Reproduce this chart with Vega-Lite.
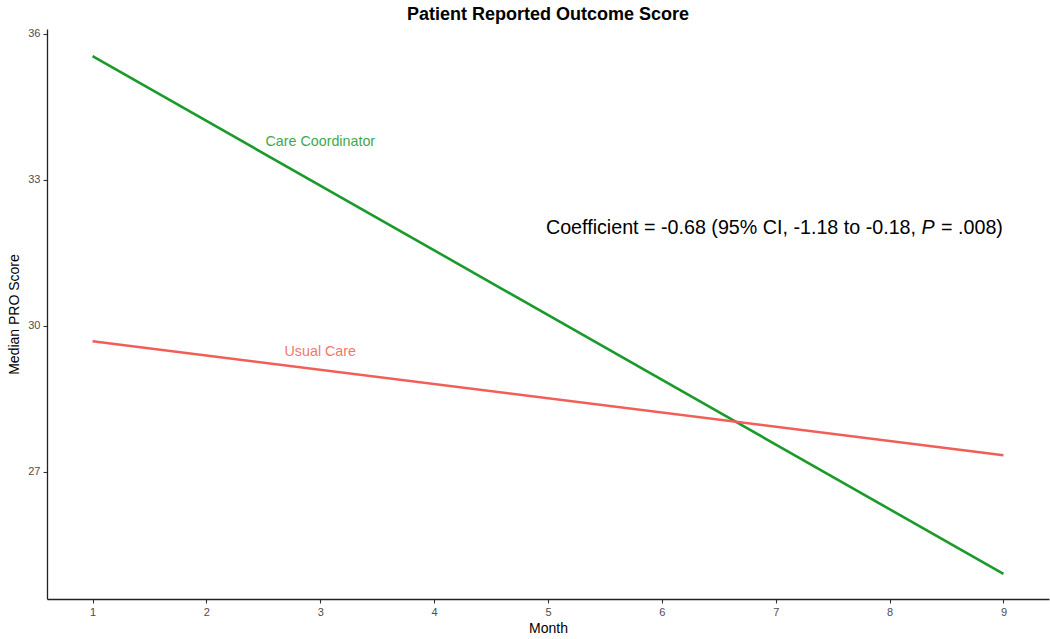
{
  "$schema": "https://vega.github.io/schema/vega-lite/v6.json",
  "autosize": {"type": "none"},
  "width": 1002,
  "height": 570,
  "padding": {"left": 47, "top": 29, "right": 1, "bottom": 40},
  "background": "white",
  "config": {
    "view": {"stroke": null},
    "font": "Liberation Sans",
    "axis": {"grid": false}
  },
  "title": {
    "text": "Patient Reported Outcome Score",
    "fontSize": 18,
    "fontWeight": "bold",
    "color": "black",
    "anchor": "middle",
    "frame": "group",
    "baseline": "alphabetic",
    "offset": 10,
    "dy": 20,
    "font": "Liberation Sans"
  },
  "layer": [
    {
      "data": {"values": [
        {"group": "Care Coordinator", "month": 1, "score": 35.54},
        {"group": "Care Coordinator", "month": 9, "score": 24.9},
        {"group": "Usual Care", "month": 1, "score": 29.68},
        {"group": "Usual Care", "month": 9, "score": 27.34}
      ]},
      "mark": {"type": "line", "strokeWidth": 2.6},
      "encoding": {
        "x": {
          "field": "month", "type": "quantitative",
          "scale": {"domain": [0.6, 9.4], "nice": false, "zero": false},
          "axis": {
            "title": "Month", "values": [1,2,3,4,5,6,7,8,9], "format": "d",
            "domainColor": "#222222", "domainWidth": 1.3,
            "tickColor": "#333333", "tickSize": 4, "tickWidth": 1.1,
            "labelColor": "#4d4d4d", "labelFontSize": 11, "labelPadding": 3,
            "titleColor": "black", "titleFontSize": 14, "titleFontWeight": "normal", "titlePadding": 4
          }
        },
        "y": {
          "field": "score", "type": "quantitative",
          "scale": {"domain": [24.385, 36.097], "nice": false, "zero": false},
          "axis": {
            "title": "Median PRO Score", "values": [27, 30, 33, 36],
            "domainColor": "#222222", "domainWidth": 1.3,
            "tickColor": "#333333", "tickSize": 4, "tickWidth": 1.1,
            "labelColor": "#4d4d4d", "labelFontSize": 11, "labelPadding": 3,
            "titleColor": "black", "titleFontSize": 14, "titleFontWeight": "normal", "titlePadding": 6
          }
        },
        "color": {
          "field": "group", "type": "nominal",
          "scale": {"domain": ["Care Coordinator", "Usual Care"], "range": ["#1a9a2a", "#f05e57"]},
          "legend": null
        }
      }
    },
    {
      "data": {"values": [
        {"group": "Care Coordinator", "month": 3, "score": 33.78},
        {"group": "Usual Care", "month": 3, "score": 29.47}
      ]},
      "mark": {"type": "text", "fontSize": 14.3, "align": "center", "baseline": "middle"},
      "encoding": {
        "x": {"field": "month", "type": "quantitative"},
        "y": {"field": "score", "type": "quantitative"},
        "text": {"field": "group"},
        "color": {
          "field": "group", "type": "nominal",
          "scale": {"domain": ["Care Coordinator", "Usual Care"], "range": ["#1a9a2a", "#f05e57"]},
          "legend": null
        },
        "opacity": {"value": 0.85}
      }
    },
    {
      "data": {"values": [{"month": 8.232, "score": 32.01, "label": "Coefficient = -0.68 (95% CI, -1.18 to -0.18,"}]},
      "mark": {"type": "text", "fontSize": 19.7, "align": "right", "baseline": "middle", "color": "black"},
      "encoding": {
        "x": {"field": "month", "type": "quantitative"},
        "y": {"field": "score", "type": "quantitative"},
        "text": {"field": "label"}
      }
    },
    {
      "data": {"values": [{"month": 8.28, "score": 32.01, "label": "P"}]},
      "mark": {"type": "text", "fontSize": 19.7, "fontStyle": "italic", "align": "left", "baseline": "middle", "color": "black"},
      "encoding": {
        "x": {"field": "month", "type": "quantitative"},
        "y": {"field": "score", "type": "quantitative"},
        "text": {"field": "label"}
      }
    },
    {
      "data": {"values": [{"month": 8.452, "score": 32.01, "label": "= .008)"}]},
      "mark": {"type": "text", "fontSize": 19.7, "align": "left", "baseline": "middle", "color": "black"},
      "encoding": {
        "x": {"field": "month", "type": "quantitative"},
        "y": {"field": "score", "type": "quantitative"},
        "text": {"field": "label"}
      }
    }
  ]
}
